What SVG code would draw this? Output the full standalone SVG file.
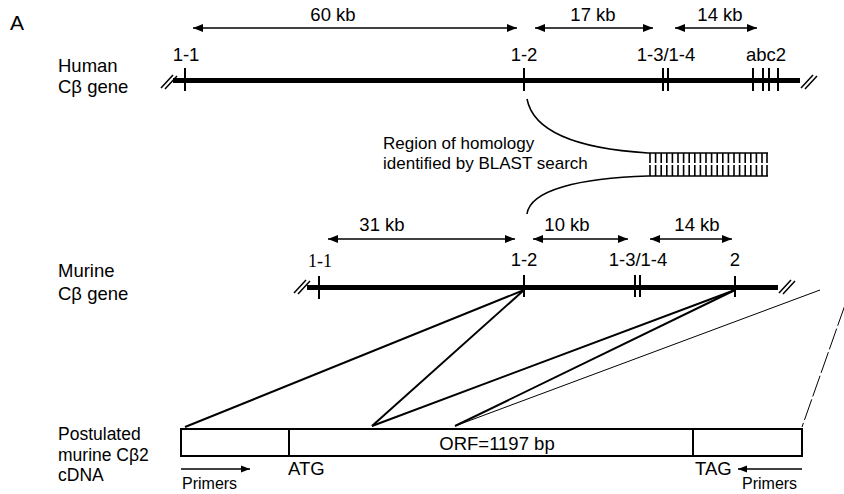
<svg xmlns="http://www.w3.org/2000/svg" width="844" height="494" viewBox="0 0 844 494">
<defs>
<marker id="ah" viewBox="0 0 10 10" refX="10" refY="5" markerWidth="15" markerHeight="10" markerUnits="userSpaceOnUse" orient="auto-start-reverse">
<path d="M0,1 L10,5 L0,9 Z" fill="#000"/>
</marker>
<marker id="ahp" viewBox="0 0 10 10" refX="10" refY="5" markerWidth="14" markerHeight="9" markerUnits="userSpaceOnUse" orient="auto">
<path d="M0,1 L10,5 L0,9 Z" fill="#000"/>
</marker>
</defs>
<style>
text{font-family:"Liberation Sans",Arial,sans-serif;fill:#000}
.lbl{font-size:18.5px}
.rg{font-size:17px}
.pl{font-size:17.5px}
.big{font-size:21px}
.sm{font-size:16px}
.serif{font-family:"Liberation Serif","Times New Roman",serif;font-size:18px}
.gene{stroke:#000;stroke-width:5;fill:none}
.tick{stroke:#000;stroke-width:2;fill:none}
.sl{stroke:#000;stroke-width:1.5;fill:none}
.dim{stroke:#000;stroke-width:1.5;fill:none;marker-start:url(#ah);marker-end:url(#ah)}
.map{stroke:#000;stroke-width:2;fill:none}
.thin{stroke:#000;stroke-width:1;fill:none}
.box{stroke:#000;stroke-width:2;fill:#fff}
.prim{stroke:#000;stroke-width:1.5;fill:none;marker-end:url(#ahp)}
</style>
<rect width="844" height="494" fill="#fff"/>
<text class="big" x="10" y="30">A</text>

<g id="human">
<text class="lbl" x="58" y="72">Human</text>
<text class="lbl" x="58" y="93">Cβ gene</text>
<line class="gene" x1="173" y1="80.5" x2="800" y2="80.5"/>
<path class="sl" d="M161,88 L173,75 M165,89 L177,76"/>
<path class="sl" d="M801,88 L813,75 M805,89 L817,76"/>
<path class="tick" d="M185,68 V91 M524,68 V91 M663,68 V91 M668,68 V91 M753,68 V91 M763,68 V91 M769,68 V91 M778,68 V91"/>
<text class="lbl" x="186" y="61" text-anchor="middle">1-1</text>
<text class="lbl" x="524" y="61" text-anchor="middle">1-2</text>
<text class="lbl" x="666" y="61" text-anchor="middle">1-3/1-4</text>
<text class="lbl" x="766" y="61" text-anchor="middle">abc2</text>
<line class="dim" x1="193" y1="28" x2="517" y2="28"/>
<line class="dim" x1="535" y1="28" x2="653" y2="28"/>
<line class="dim" x1="675" y1="28" x2="757" y2="28"/>
<text class="lbl" x="333" y="21" text-anchor="middle">60 kb</text>
<text class="lbl" x="593" y="21" text-anchor="middle">17 kb</text>
<text class="lbl" x="720" y="21" text-anchor="middle">14 kb</text>
</g>

<g id="homology">
<path class="sl" d="M527,99 C535,140 600,150 648,153 L768,153"/>
<path class="sl" d="M527,214 C530,190 580,178 648,176 L768,176"/>
<path stroke="#000" stroke-width="1.6" fill="none" d="M650,153 V163 M650,165 V176 M655.6,153 V163 M655.6,165 V176 M661.2,153 V163 M661.2,165 V176 M666.8,153 V163 M666.8,165 V176 M672.4,153 V163 M672.4,165 V176 M678,153 V163 M678,165 V176 M683.6,153 V163 M683.6,165 V176 M689.2,153 V163 M689.2,165 V176 M694.8,153 V163 M694.8,165 V176 M700.4,153 V163 M700.4,165 V176 M706,153 V163 M706,165 V176 M711.6,153 V163 M711.6,165 V176 M717.2,153 V163 M717.2,165 V176 M722.8,153 V163 M722.8,165 V176 M728.4,153 V163 M728.4,165 V176 M734,153 V163 M734,165 V176 M739.6,153 V163 M739.6,165 V176 M745.2,153 V163 M745.2,165 V176 M750.8,153 V163 M750.8,165 V176 M756.4,153 V163 M756.4,165 V176 M762,153 V163 M762,165 V176 M767,153 V163 M767,165 V176"/>
<text class="rg" x="383" y="148.5">Region of homology</text>
<text class="rg" x="383" y="168.5">identified by BLAST search</text>
</g>

<g id="murine">
<text class="lbl" x="58" y="277">Murine</text>
<text class="lbl" x="58" y="300">Cβ gene</text>
<line class="gene" x1="307" y1="287.5" x2="778" y2="287.5"/>
<path class="sl" d="M294,293 L306,280 M298,294 L310,281"/>
<path class="sl" d="M779,293 L791,280 M783,294 L795,281"/>
<path class="tick" d="M319,276 V299 M524,275 V297 M635,275 V297 M640,275 V297 M735,276 V297"/>
<text class="serif" x="320" y="267" text-anchor="middle">1-1</text>
<text class="lbl" x="524" y="266" text-anchor="middle">1-2</text>
<text class="lbl" x="638" y="266" text-anchor="middle">1-3/1-4</text>
<text class="lbl" x="735" y="266" text-anchor="middle">2</text>
<line class="dim" x1="328" y1="239" x2="515" y2="239"/>
<line class="dim" x1="533" y1="239" x2="628" y2="239"/>
<line class="dim" x1="650" y1="239" x2="732" y2="239"/>
<text class="lbl" x="382" y="231" text-anchor="middle">31 kb</text>
<text class="lbl" x="567" y="231" text-anchor="middle">10 kb</text>
<text class="lbl" x="697" y="231" text-anchor="middle">14 kb</text>
</g>

<g id="connectors">
<line class="map" x1="524" y1="290" x2="185" y2="427"/>
<line class="map" x1="524" y1="290" x2="372" y2="426"/>
<line class="map" x1="735" y1="290" x2="372" y2="426"/>
<line class="map" x1="735" y1="290" x2="455" y2="426"/>
<line class="thin" x1="820" y1="290" x2="455" y2="426"/>
<line class="thin" x1="845" y1="305" x2="802" y2="427" stroke-width="0.9" stroke-dasharray="22 3"/>
</g>

<g id="cdna">
<text class="pl" x="58" y="440">Postulated</text>
<text class="pl" x="58" y="461">murine Cβ2</text>
<text class="pl" x="58" y="481">cDNA</text>
<rect class="box" x="181" y="429" width="621" height="27"/>
<path class="tick" d="M289,429 V456 M693,429 V456"/>
<text class="lbl" x="497" y="450" text-anchor="middle">ORF=1197 bp</text>
<text class="lbl" x="288" y="475">ATG</text>
<text class="lbl" x="695" y="475">TAG</text>
<line class="prim" x1="181" y1="469" x2="250" y2="469"/>
<line class="prim" x1="802" y1="469" x2="738" y2="469"/>
<text class="sm" x="182" y="489">Primers</text>
<text class="sm" x="742" y="489">Primers</text>
</g>
</svg>
